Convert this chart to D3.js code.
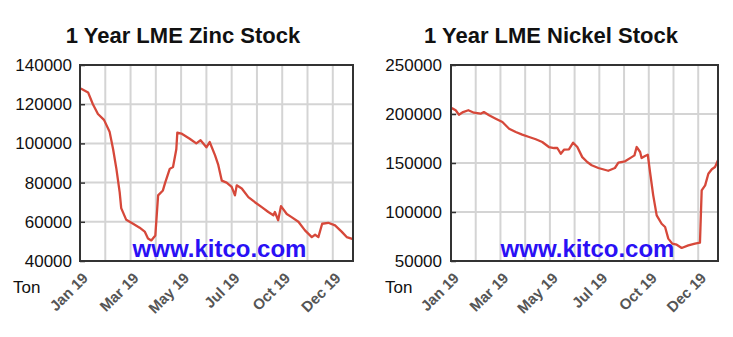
<!DOCTYPE html>
<html>
<head>
<meta charset="utf-8">
<script src="https://cdn.jsdelivr.net/npm/d3@7"></script>
<style>
  body { margin: 0; background: #fff; }
  svg { display: block; font-family: "Liberation Sans", Arial, sans-serif; }
</style>
</head>
<body>
<svg id="chart" width="733" height="337"></svg>
<script>
// x positions are in grid intervals from the left edge (gridline every ~34 days)
const monthLabels = ["Jan 19", "Mar 19", "May 19", "Jul 19", "Oct 19", "Dec 19"];
const labelTicks = [0, 2, 4, 6, 8, 10];

const zincX = [0.03, 0.32, 0.51, 0.71, 0.95, 1.17, 1.31, 1.44, 1.57, 1.63, 1.83, 2.10, 2.36, 2.56, 2.69, 2.82, 2.98,
  3.09, 3.28, 3.37, 3.55, 3.68, 3.81, 3.85, 4.01, 4.34, 4.60, 4.77, 5.00, 5.13, 5.34, 5.47, 5.61, 5.80, 6.00, 6.13,
  6.20, 6.40, 6.66, 6.92, 7.19, 7.45, 7.65, 7.71, 7.84, 7.95, 8.18, 8.37, 8.64, 8.90, 9.17, 9.30, 9.43, 9.58, 9.82,
  10.09, 10.35, 10.55, 10.80];
const zincStock = [128000, 126000, 120000, 115000, 112000, 106000, 97000, 87000, 75000, 67000, 61000, 59000, 57000,
  55000, 51500, 50500, 53000, 73500, 76000, 80000, 87000, 88000, 97000, 105500, 105000, 102400, 100000, 101600,
  98000, 100700, 94000, 89000, 81000, 80000, 77800, 73500, 78600, 77000, 72600, 70000, 67500, 65000, 63300, 65000,
  60800, 68000, 64000, 62400, 60000, 55600, 52200, 53400, 52200, 59000, 59500, 58200, 55000, 52200, 51200];
const zincTicks = [40000, 60000, 80000, 100000, 120000, 140000];

const nickelX = [0.03, 0.19, 0.32, 0.49, 0.70, 0.93, 1.20, 1.33, 1.54, 1.81, 2.08, 2.35, 2.62, 2.88, 3.16, 3.43, 3.69,
  3.96, 4.17, 4.30, 4.44, 4.57, 4.77, 4.94, 5.11, 5.31, 5.51, 5.69, 5.96, 6.36, 6.63, 6.77, 7.04, 7.31, 7.42, 7.51,
  7.65, 7.71, 7.85, 7.96, 8.05, 8.18, 8.32, 8.52, 8.66, 8.79, 8.95, 9.13, 9.33, 9.60, 9.87, 10.07, 10.14, 10.28,
  10.41, 10.55, 10.68, 10.80];
const nickelStock = [206000, 203800, 199300, 202000, 203800, 201300, 200300, 202000, 198700, 195200, 191800, 185000,
  181600, 178900, 176500, 174200, 171400, 166300, 165300, 165300, 159500, 163600, 164000, 170700, 166300, 156000,
  151000, 147700, 144900, 142100, 144900, 150300, 151700, 156000, 157800, 166300, 161200, 155100, 157100, 158500,
  140800, 117000, 96600, 88000, 84700, 72800, 67700, 66600, 63300, 66000, 67700, 68700, 122100, 127200, 139100,
  143600, 145900, 152800];
const nickelTicks = [50000, 100000, 150000, 200000, 250000];

const svg = d3.select("#chart");

function drawChart(opts) {
  const g = svg.append("g");
  const x = d3.scaleLinear().domain([0, 10.8]).range([opts.left, opts.right]);
  const y = d3.scaleLinear().domain(d3.extent(opts.ticks)).range([261, 65]);
  const top = 65, bottom = 261;

  g.append("text")
    .attr("x", opts.titleX)
    .attr("y", 43)
    .attr("text-anchor", "middle")
    .style("font-size", "22px")
    .style("font-weight", "bold")
    .attr("fill", "#111")
    .text(opts.title);

  // gridlines
  g.append("g")
    .selectAll("line.v")
    .data(d3.range(1, 11))
    .join("line")
    .attr("x1", (d) => x(d)).attr("x2", (d) => x(d))
    .attr("y1", top).attr("y2", bottom)
    .attr("stroke", "#d4d4d4").attr("stroke-width", 2);
  g.append("g")
    .selectAll("line.h")
    .data(opts.ticks.slice(1, -1))
    .join("line")
    .attr("x1", opts.left).attr("x2", opts.right)
    .attr("y1", (d) => y(d)).attr("y2", (d) => y(d))
    .attr("stroke", "#d4d4d4").attr("stroke-width", 2);

  // y axis labels, ticks point inward
  const yAxis = g.append("g")
    .attr("transform", `translate(${opts.left},0)`)
    .call(d3.axisLeft(y).tickValues(opts.ticks).tickSize(-5).tickPadding(opts.pad).tickFormat(d3.format("d")));
  yAxis.select(".domain").remove();
  yAxis.selectAll(".tick line").attr("stroke", "#333").attr("stroke-width", 1.5);
  yAxis.selectAll(".tick text")
    .attr("fill", "#111")
    .style("font-size", "17px")
    .style("font-family", "'Liberation Sans', Arial, sans-serif");

  // x labels
  g.append("g")
    .selectAll("text")
    .data(labelTicks)
    .join("text")
    .attr("transform", (d) => `translate(${x(d) + 9},${bottom + 18}) rotate(-45)`)
    .attr("text-anchor", "end")
    .style("font-size", "15px")
    .style("font-weight", "bold")
    .attr("fill", "#555")
    .text((d, i) => monthLabels[i]);

  g.append("text")
    .attr("x", opts.tonX)
    .attr("y", 293)
    .style("font-size", "17px")
    .attr("fill", "#111")
    .text("Ton");

  g.append("text")
    .attr("x", (opts.left + opts.right) / 2 + 3)
    .attr("y", 257)
    .attr("text-anchor", "middle")
    .style("font-size", "24px")
    .style("font-weight", "bold")
    .attr("fill", "#2a10f5")
    .text("www.kitco.com");

  const line = d3.line()
    .x((d, i) => x(opts.xs[i]))
    .y((d) => y(d));
  g.append("path")
    .datum(opts.values)
    .attr("d", line)
    .attr("fill", "none")
    .attr("stroke", "#d6483a")
    .attr("stroke-width", 2.3)
    .attr("stroke-linejoin", "round");

  g.append("rect")
    .attr("x", opts.left).attr("y", top)
    .attr("width", opts.right - opts.left).attr("height", bottom - top)
    .attr("fill", "none")
    .attr("stroke", "#333").attr("stroke-width", 2);
}

drawChart({
  title: "1 Year LME Zinc Stock", titleX: 183, tonX: 13, pad: 8,
  left: 80, right: 353, ticks: zincTicks, xs: zincX, values: zincStock
});
drawChart({
  title: "1 Year LME Nickel Stock", titleX: 551, tonX: 385, pad: 9,
  left: 451, right: 718, ticks: nickelTicks, xs: nickelX, values: nickelStock
});
</script>
</body>
</html>
